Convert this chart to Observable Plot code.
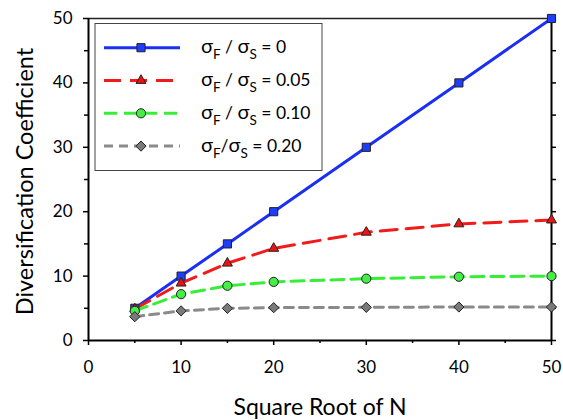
<!DOCTYPE html>
<html><head><meta charset="utf-8">
<script src="https://cdn.jsdelivr.net/npm/d3@7"></script>
<script src="https://cdn.jsdelivr.net/npm/@observablehq/plot@0.6"></script>
<style>body{margin:0;background:#fff} #chart{width:563px;height:420px}</style>
</head><body><div id="chart"></div>
<script>
// Data
const sqrtN = [5, 10, 15, 20, 30, 40, 50];
const ratio0 = [5, 10, 15, 20, 30, 40, 50];
const ratio005 = [4.9, 8.9, 12.0, 14.3, 16.8, 18.1, 18.7];
const ratio010 = [4.6, 7.2, 8.5, 9.1, 9.6, 9.9, 10.0];
const ratio020 = [3.7, 4.6, 5.0, 5.1, 5.15, 5.2, 5.2];
const seriesLabels = ["0", "0.05", "0.10", "0.20"];
const xTicks = [0, 10, 20, 30, 40, 50];
const yTicks = [0, 10, 20, 30, 40, 50];

const styles = [
  {values: ratio0,   stroke: "#1a2ff2", fill: "#1f3dff", dash: null,   symbol: "square",   r: 4.6, tight: false},
  {values: ratio005, stroke: "#f21b1b", fill: "#ee1111", dash: "17,9", symbol: "triangle", r: 3.7, tight: false},
  {values: ratio010, stroke: "#36ee36", fill: "#44ee44", dash: "13,7", symbol: "circle",   r: 4.6, tight: false},
  {values: ratio020, stroke: "#8a8a8a", fill: "#7a7a7a", dash: "9,6",  symbol: "diamond2", r: 4.6, tight: true}
];

const rows = styles.map(s => sqrtN.map((x, i) => ({x, y: s.values[i]})));

const marks = [
  Plot.axisY({ticks: yTicks, tickSize: 5, tickPadding: 11, fontSize: 17, strokeWidth: 1.5, label: null}),
  Plot.axisY({ticks: d3.range(5, 50, 10), tickSize: 4, text: null, strokeWidth: 1.5, label: null}),
  Plot.axisY({anchor: "right", ticks: d3.range(0, 51, 5), tickSize: 4, text: null, strokeWidth: 1.5, label: null}),
  Plot.axisX({ticks: xTicks, tickSize: 5, tickPadding: 15, fontSize: 17, strokeWidth: 1.5, label: null}),
  Plot.axisX({ticks: d3.range(5, 50, 10), tickSize: 3, text: null, strokeWidth: 1.5, label: null}),
  Plot.ruleY([50], {stroke: "#222", strokeWidth: 1.3}),
  Plot.ruleX([50], {stroke: "#000", strokeWidth: 2}),
  Plot.ruleX([0], {stroke: "#000", strokeWidth: 2}),
  Plot.ruleY([0], {stroke: "#000", strokeWidth: 2}),
  Plot.text(["Square Root of N"], {frameAnchor: "bottom", lineAnchor: "middle", textAnchor: "middle", dy: 67, fontSize: 23}),
  Plot.text(["Diversification Coefficient"], {frameAnchor: "left", lineAnchor: "middle", textAnchor: "middle", rotate: -90, dx: -63, dy: 2, fontSize: 23.5})
];
styles.forEach((s, k) => {
  marks.push(Plot.line(rows[k], {x: "x", y: "y", stroke: s.stroke, strokeWidth: 3, strokeDasharray: s.dash}));
});
styles.forEach((s, k) => {
  marks.push(Plot.dot(rows[k], {x: "x", y: "y", symbol: s.symbol, r: s.r, fill: s.fill, stroke: "#222", strokeWidth: 1}));
});

const chart = Plot.plot({
  width: 563, height: 420,
  marginLeft: 88, marginRight: 12, marginTop: 18, marginBottom: 80,
  x: {domain: [0, 50]},
  y: {domain: [0, 50]},
  style: {fontFamily: "Lato, 'Open Sans', sans-serif", color: "#000", background: "#fff", overflow: "visible"},
  marks
});
document.getElementById("chart").appendChild(chart);

// Legend inside the plot area
const svg = d3.select(chart);
const lg = svg.append("g").attr("font-family", "Lato, 'Open Sans', sans-serif").attr("text-anchor", "start");
lg.append("rect").attr("x", 95).attr("y", 23.5).attr("width", 227).attr("height", 147)
  .attr("fill", "#fff").attr("stroke", "#444").attr("stroke-width", 1);
const symMap = {square: d3.symbolSquare, triangle: d3.symbolTriangle, circle: d3.symbolCircle, diamond2: d3.symbolDiamond2};
styles.forEach((s, k) => {
  const cy = 47.7 + k * 32.8;
  lg.append("line").attr("x1", 104).attr("x2", 180).attr("y1", cy).attr("y2", cy)
    .attr("stroke", s.stroke).attr("stroke-width", 3).attr("stroke-dasharray", s.dash);
  lg.append("path").attr("transform", `translate(141,${cy})`)
    .attr("d", d3.symbol().type(symMap[s.symbol]).size(Math.PI * s.r * s.r)())
    .attr("fill", s.fill).attr("stroke", "#222").attr("stroke-width", 1);
  const t = lg.append("text").attr("x", 201).attr("y", cy + 5.6).attr("font-size", 17.5).attr("fill", "#000");
  const sp = s.tight ? "" : " ";
  t.append("tspan").attr("font-size", 20).text("σ");
  t.append("tspan").attr("font-size", 13.5).attr("dy", 6).text("F");
  t.append("tspan").attr("dy", -6).text(sp + "/" + sp);
  t.append("tspan").attr("font-size", 20).text("σ");
  t.append("tspan").attr("font-size", 13.5).attr("dy", 6).text("S");
  t.append("tspan").attr("dy", -6).text(" = " + seriesLabels[k]);
});
</script>
</body></html>
